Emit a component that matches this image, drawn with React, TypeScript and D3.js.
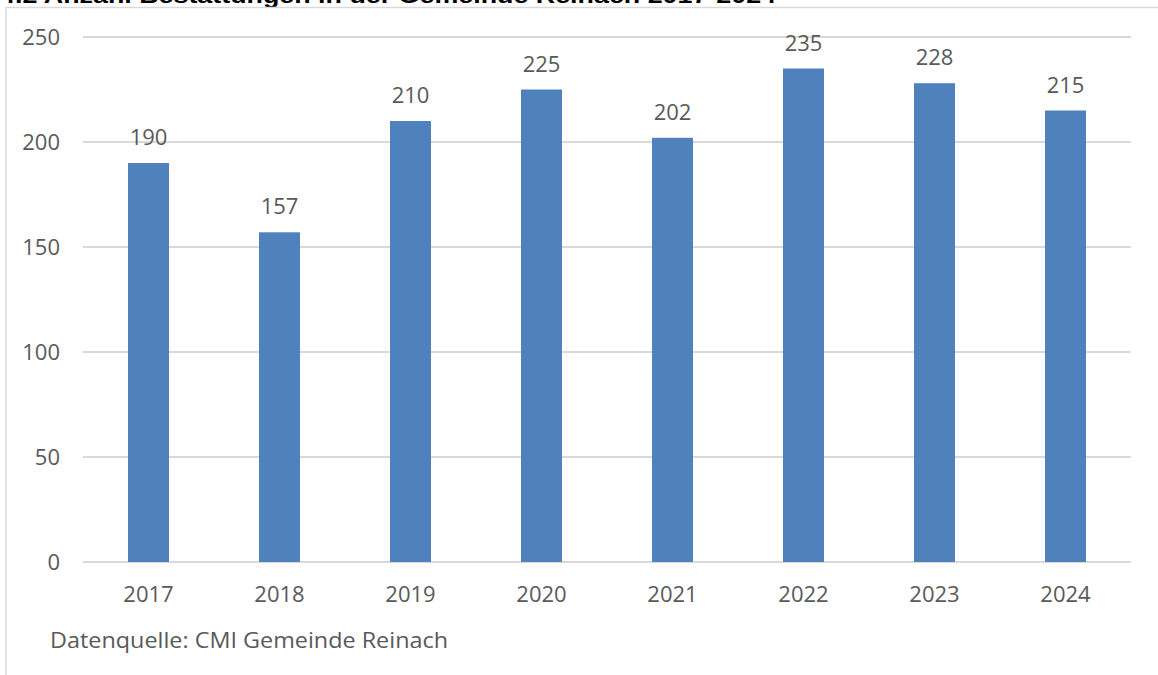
import React from "react";
import * as d3 from "d3";

const years = ["2017", "2018", "2019", "2020", "2021", "2022", "2023", "2024"];
const burials = [190, 157, 210, 225, 202, 235, 228, 215];
const yTicks = [0, 50, 100, 150, 200, 250];
const titleText = "4.2 Anzahl Bestattungen in der Gemeinde Reinach 2017-2024";
const sourceText = "Datenquelle: CMI Gemeinde Reinach";

const W = 1158;
const H = 675;
const plot = { left: 83, right: 1131, top: 37, bottom: 562 };
const FONT = "'Open Sans', sans-serif";
const TEXT = "#595959";
const FS = 22;

export default function App() {
  const x = d3
    .scaleBand<string>()
    .domain(years)
    .range([plot.left, plot.right])
    .paddingInner(0.687)
    .paddingOuter(0.3435);
  const y = d3.scaleLinear().domain([0, 250]).range([plot.bottom, plot.top]);

  return (
    <svg
      width={W}
      height={H}
      style={{ position: "absolute", left: 0, top: 0, background: "#fff" }}
    >
      <text
        x={0}
        y={3}
        fontFamily="'Liberation Sans', Arial, sans-serif"
        fontWeight="bold"
        fontSize={22}
        fill="#000"
        textLength={776}
        lengthAdjust="spacingAndGlyphs"
      >
        {titleText}
      </text>
      <path
        d={`M6,${H} V7.5 H${W}`}
        fill="none"
        stroke="#D9D9D9"
        strokeWidth={1.5}
      />
      {yTicks.map((t) => (
        <g key={t}>
          <line
            x1={plot.left}
            x2={plot.right}
            y1={y(t)}
            y2={y(t)}
            stroke="#D9D9D9"
            strokeWidth={2}
          />
          <text
            x={60}
            y={y(t) + 7.5}
            textAnchor="end"
            fontFamily={FONT}
            fontSize={FS}
            fill={TEXT}
          >
            {t}
          </text>
        </g>
      ))}
      {years.map((yr, i) => {
        const x0 = x(yr)!;
        const bw = x.bandwidth();
        const v = burials[i];
        return (
          <g key={yr}>
            <rect
              x={x0}
              y={y(v)}
              width={bw}
              height={y(0) - y(v)}
              fill="#4F81BD"
            />
            <text
              x={x0 + bw / 2}
              y={y(v) - 18}
              textAnchor="middle"
              fontFamily={FONT}
              fontSize={FS}
              fill={TEXT}
            >
              {v}
            </text>
            <text
              x={x0 + bw / 2}
              y={602}
              textAnchor="middle"
              fontFamily={FONT}
              fontSize={FS}
              fill={TEXT}
            >
              {yr}
            </text>
          </g>
        );
      })}
      <text
        x={50}
        y={648}
        fontFamily={FONT}
        fontSize={FS}
        fill={TEXT}
        textLength={398}
        lengthAdjust="spacingAndGlyphs"
      >
        {sourceText}
      </text>
    </svg>
  );
}
